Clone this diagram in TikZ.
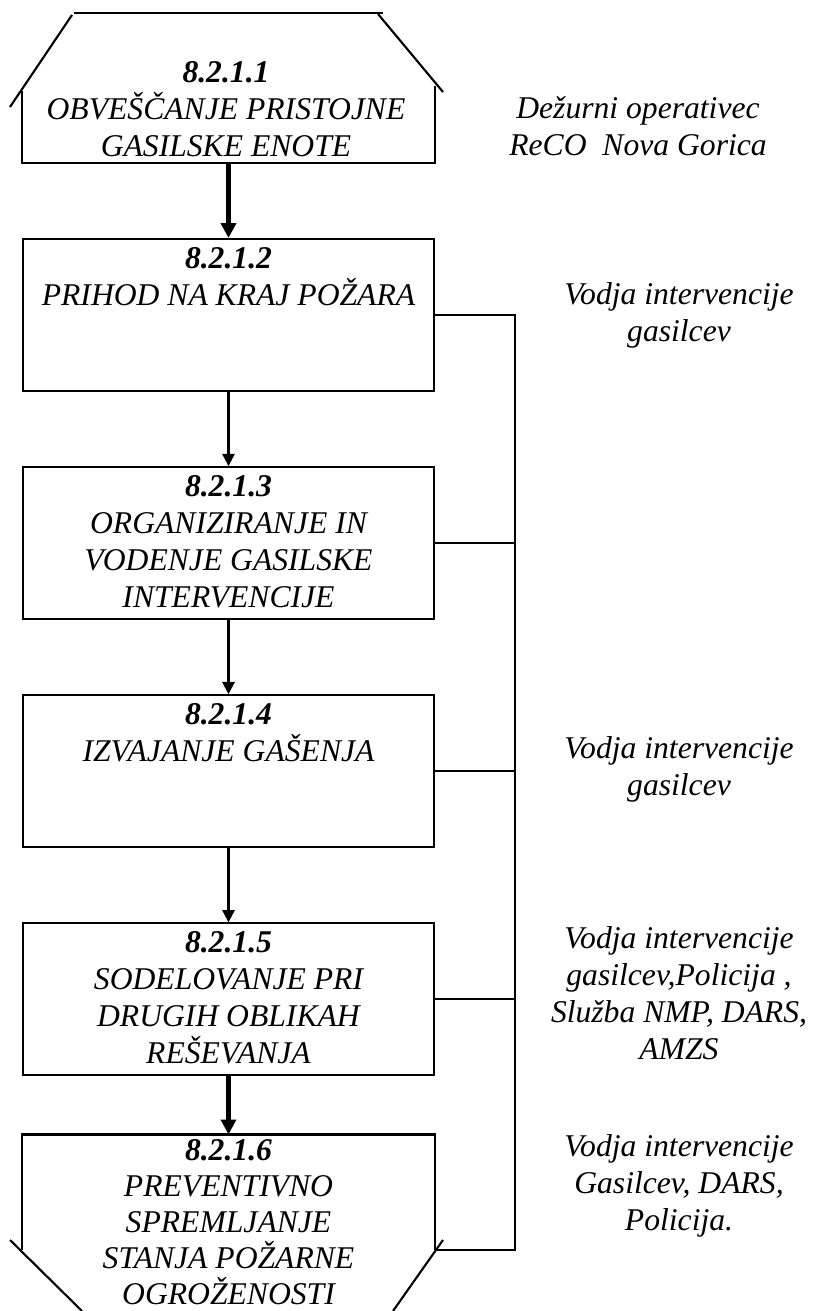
\documentclass[tikz,border=0pt]{standalone}
\usepackage{fontspec}
\setmainfont{Liberation Serif}
\usetikzlibrary{arrows.meta}
\usetikzlibrary{positioning}

\tikzset{
	stepbox/.style={draw, rectangle, line width=1.2pt, inner sep=0pt, minimum width=8.22cm, minimum height=3.04cm, anchor=north},
	steptext/.style={anchor=north, inner sep=0pt, align=center, font=\fontsize{18}{21}\selectfont\itshape},
	who/.style={anchor=north, inner sep=0pt, align=center, font=\fontsize{18}{21}\selectfont\itshape},
	flow/.style={-{Triangle[length=7pt,width=7pt]}, line width=1.2pt},
	bigflow/.style={-{Triangle[length=8.5pt,width=8.5pt]}, line width=2.4pt},
	frame/.style={line width=1.2pt}
}

\begin{document}
\begin{tikzpicture}
	% page: 813 x 1311 px, 1cm = 50px
	\useasboundingbox (0,0) rectangle (16.26,-26.22);
	
	% steps 8.2.1.2 - 8.2.1.5
	\node[stepbox] (b2) at (4.57,-4.76) {};
	\node[stepbox, below=1.48cm of b2] (b3) {};
	\node[stepbox, below=1.48cm of b3] (b4) {};
	\node[stepbox, below=1.48cm of b4] (b5) {};
	% first and last step (open shapes)
	\node[stepbox, draw=none, minimum height=1.5cm, above=1.5cm of b2] (b1) {};
	\node[stepbox, draw=none, minimum height=2.26cm, below=1.16cm of b5] (b6) {};
	
	% 8.2.1.1 outline
	\draw[frame] ([yshift=-0.1cm]b1.north west) -- (b1.south west) -- (b1.south east) -- (b1.north east);
	\draw[frame] (1.48,-0.26) -- (7.66,-0.26);
	\draw[frame] (1.44,-0.30) -- (0.20,-2.14);
	\draw[frame] (7.56,-0.28) -- (8.86,-1.84);
	
	% 8.2.1.6 outline
	\draw[frame] (b6.south west) -- (b6.north west) -- (b6.north east) -- (b6.south east);
	\draw[frame] (0.20,-24.80) -- (1.64,-26.22);
	\draw[frame] (8.86,-24.80) -- (7.86,-26.22);
	
	% texts in the steps
	\node[steptext] (t1) at (4.52,-1.225) {\textbf{8.2.1.1}\\OBVEŠČANJE PRISTOJNE\\GASILSKE ENOTE};
	\node[steptext, below=0.185cm of b2.north] (t2) {\textbf{8.2.1.2}\\PRIHOD NA KRAJ POŽARA};
	\node[steptext, below=0.185cm of b3.north] (t3) {\textbf{8.2.1.3}\\ORGANIZIRANJE IN\\VODENJE GASILSKE\\INTERVENCIJE};
	\node[steptext, below=0.185cm of b4.north] (t4) {\textbf{8.2.1.4}\\IZVAJANJE GAŠENJA};
	\node[steptext, below=0.185cm of b5.north] (t5) {\textbf{8.2.1.5}\\SODELOVANJE PRI\\DRUGIH OBLIKAH\\REŠEVANJA};
	\node[steptext, font=\fontsize{18}{20.5}\selectfont\itshape, below=0.1cm of b6.north] (t6) {\textbf{8.2.1.6}\\PREVENTIVNO\\SPREMLJANJE\\STANJA POŽARNE\\OGROŽENOSTI};
	
	% who is in charge
	\node[who] (w1) at (12.76,-1.925) {Dežurni operativec\\ReCO\ \ Nova Gorica};
	\node[who] (w2) at (13.58,-5.645) {Vodja intervencije\\gasilcev};
	\node[who] (w4) at (13.58,-14.725) {Vodja intervencije\\gasilcev};
	\node[who] (w5) at (13.58,-18.525) {Vodja intervencije\\gasilcev,Policija ,\\Služba NMP, DARS,\\AMZS};
	\node[who] (w6) at (13.58,-22.685) {Vodja intervencije\\Gasilcev, DARS,\\Policija.};
	
	% arrows down
	\draw[bigflow] (b1.south) -- (b2.north);
	\draw[flow] (b2.south) -- (b3.north);
	\draw[flow] (b3.south) -- (b4.north);
	\draw[flow] (b4.south) -- (b5.north);
	\draw[bigflow] (b5.south) -- (b6.north);
	
	% line on the right
	\coordinate (rail) at (10.3,0);
	\draw[frame] (b2.east) -- (b2.east -| rail) -- (b6.south east -| rail) -- (b6.south east);
	\foreach \b in {b3,b4,b5}
		\draw[frame] (\b.east) -- (\b.east -| rail);
	
\end{tikzpicture}
\end{document}
